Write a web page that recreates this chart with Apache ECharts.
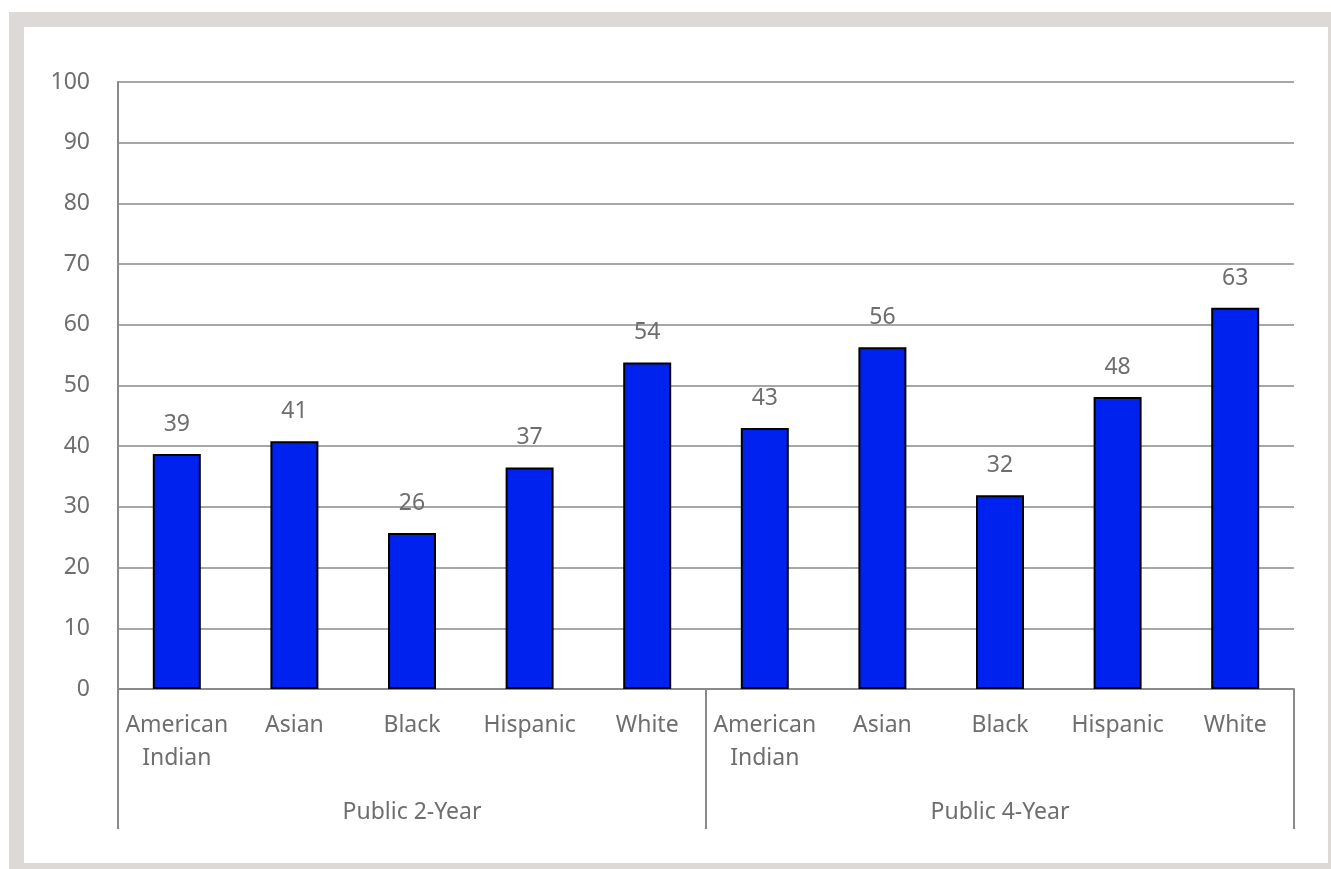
<!DOCTYPE html>
<html>
<head>
<meta charset="utf-8">
<script src="https://cdn.jsdelivr.net/npm/echarts@6/dist/echarts.min.js"></script>
<style>
html,body{margin:0;padding:0;background:#fff;width:1331px;height:869px;overflow:hidden;}
#frame{position:absolute;left:9px;top:12px;width:1322px;height:857px;background:#dcd9d6;}
#inner{position:absolute;left:24px;top:27px;width:1304px;height:836px;background:#fff;}
#chart{position:absolute;left:0;top:0;width:1331px;height:869px;}
</style>
</head>
<body>
<div id="frame"></div>
<div id="inner"></div>
<div id="chart"></div>
<script>
const categories = ['American\nIndian','Asian','Black','Hispanic','White','American\nIndian','Asian','Black','Hispanic','White'];
const groups = ['Public 2-Year','Public 4-Year'];
const values = [38.7, 40.8, 25.7, 36.5, 53.8, 43.0, 56.3, 31.9, 48.1, 62.8];
const yTicks = {min:0, max:100, interval:10};

const FONT = 'Noto Sans';
const TXT = '#6e6e6e';
const LINE = '#8a8a8a';
const FS = 23;

const chart = echarts.init(document.getElementById('chart'));
chart.setOption({
  animation:false,
  grid:{left:118,right:37,top:82,bottom:180},
  xAxis:[
    {type:'category',data:categories,position:'bottom',
     axisLine:{show:true,lineStyle:{color:LINE,width:2}},
     axisTick:{show:false},
     axisLabel:{color:TXT,fontFamily:FONT,fontSize:FS,lineHeight:33,margin:20,interval:0}},
    {type:'category',data:groups,position:'bottom',
     axisLine:{show:false},
     axisTick:{show:true,length:140,lineStyle:{color:LINE,width:2}},
     axisLabel:{color:TXT,fontFamily:FONT,fontSize:FS,lineHeight:26,margin:110}}
  ],
  yAxis:{type:'value',min:yTicks.min,max:yTicks.max,interval:yTicks.interval,
    axisLine:{show:true,lineStyle:{color:LINE,width:2}},
    axisTick:{show:false},
    splitLine:{show:true,lineStyle:{color:LINE,width:1.5}},
    axisLabel:{color:TXT,fontFamily:FONT,fontSize:FS,margin:28}},
  series:[{type:'bar',data:values,barWidth:48,xAxisIndex:0,
    itemStyle:{color:'#0022ee',borderColor:'#000',borderWidth:2},
    label:{show:true,position:'top',distance:18,color:TXT,fontFamily:FONT,fontSize:FS,
      formatter:p=>Math.round(p.value)}}]
});
</script>
</body>
</html>
